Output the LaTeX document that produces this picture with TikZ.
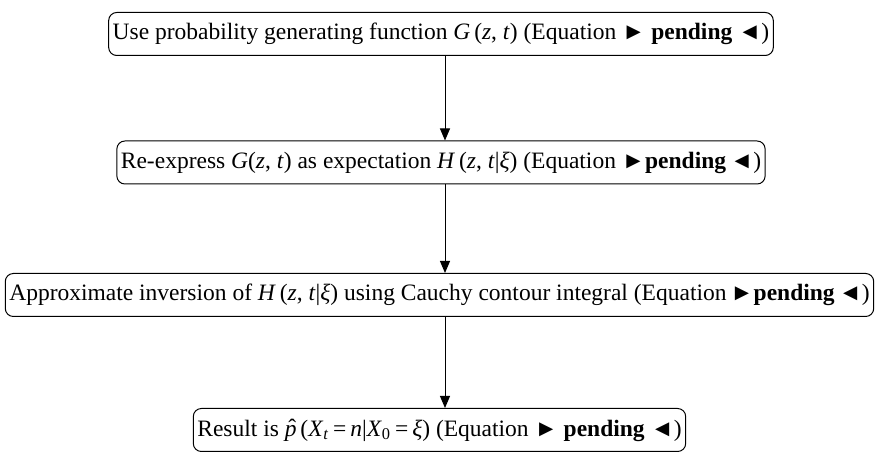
\documentclass[tikz,border=0pt]{standalone}
\usepackage{fontspec}
\setmainfont{Liberation Serif}
\usetikzlibrary{arrows.meta}
\newcommand{\eqpending}[2]{(Equation#1\textbf{pending}#2◄)}
\newcommand{\phat}{\textit{p}\llap{\raisebox{0.1ex}{ˆ}\kern0.02em}}
\begin{document}
\begin{tikzpicture}[x=1pt,y=1pt,font=\fontsize{11.75}{13}\selectfont]
\tikzstyle{stepbox} = [draw, rounded corners=4pt, minimum height=21.5pt, inner xsep=2pt, line width=0.5pt] % рамка шага
\tikzstyle{flow} = [-{Triangle[length=6pt,width=5pt]}, line width=0.5pt] % стрелка
\useasboundingbox (0,0) rectangle (439,-229.5);
\coordinate (axis) at (222.5,0); % ось стрелок

\node[stepbox] (b1) at (220.5,-17) {Use probability generating function \textit{G}\,(\textit{z}, \textit{t}) \eqpending{ ► }{ }};
\node[stepbox] (b2) at (220.5,-81.25) {Re-express \textit{G}(\textit{z}, \textit{t}) as expectation \textit{H}\,(\textit{z}, \textit{t}|\textit{ξ}) \eqpending{ ►}{\,}};
\node[stepbox] (b3) at (219.75,-147.5) {Approximate inversion of \textit{H}\,(\textit{z}, \textit{t}|\textit{ξ}) using Cauchy contour integral \eqpending{\,►}{\,}};
\node[stepbox] (b4) at (219.75,-215) {Result is \phat\,(\textit{X}\textsubscript{\textit{t}}\,=\,\textit{n}|\textit{X}\textsubscript{0}\,=\,\textit{ξ}) \eqpending{ ► }{ }};

\draw[flow] (b1.south -| axis) -- (b2.north -| axis);
\draw[flow] (b2.south -| axis) -- (b3.north -| axis);
\draw[flow] (b3.south -| axis) -- (b4.north -| axis);
\end{tikzpicture}
\end{document}
